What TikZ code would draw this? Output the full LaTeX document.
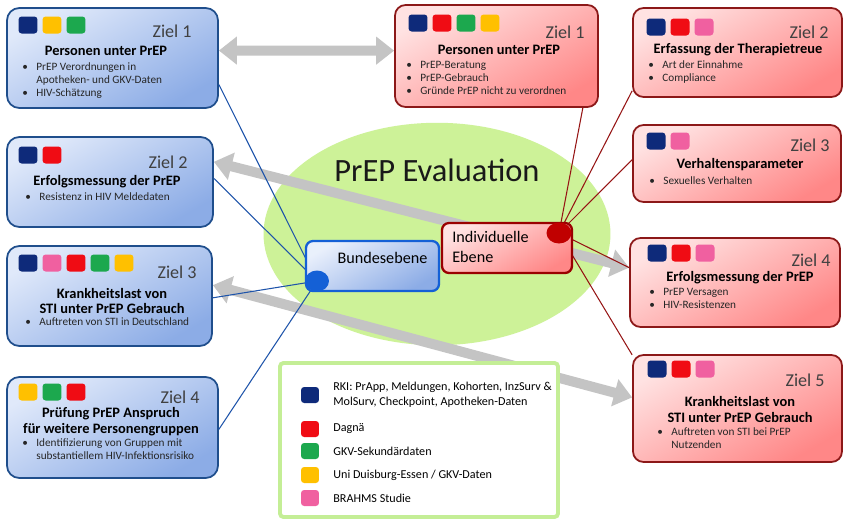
\documentclass[tikz,border=0pt]{standalone}
\usepackage{fontspec}
\setmainfont{Carlito}
\usetikzlibrary{arrows.meta,shapes.geometric}

\definecolor{rki}{RGB}{14,42,122}
\definecolor{dagnae}{RGB}{240,12,20}
\definecolor{gkv}{RGB}{28,168,78}
\definecolor{uni}{RGB}{255,192,0}
\definecolor{brahms}{RGB}{240,96,160}
\definecolor{blaurand}{RGB}{31,78,140}
\definecolor{blauhell}{RGB}{224,233,250}
\definecolor{blaudunkel}{RGB}{140,172,230}
\definecolor{rotrand}{RGB}{140,24,24}
\definecolor{rothell}{RGB}{255,226,226}
\definecolor{rotdunkel}{RGB}{255,135,135}
\definecolor{wiese}{RGB}{205,242,152}
\definecolor{legrand}{RGB}{196,238,150}
\definecolor{pfeilgrau}{RGB}{196,196,196}
\definecolor{linieblau}{RGB}{30,84,170}
\definecolor{linierot}{RGB}{150,20,20}
\definecolor{punktblau}{RGB}{20,96,214}
\definecolor{punktrot}{RGB}{192,0,0}

\tikzset{
  blaubox/.style={draw=blaurand, line width=1pt, rounded corners=7pt, top color=blauhell, bottom color=blaudunkel, shading angle=30, inner sep=0pt},
  rotbox/.style={draw=rotrand, line width=1pt, rounded corners=6pt, top color=rothell, bottom color=rotdunkel, shading angle=30, inner sep=0pt},
  bundbox/.style={draw=punktblau, line width=1.3pt, rounded corners=4pt, top color=blauhell!70!white, bottom color=blaudunkel, shading angle=30, inner sep=0pt},
  indbox/.style={draw=punktrot!80!black, line width=1.3pt, rounded corners=4pt, top color=rothell, bottom color=rotdunkel, shading angle=30, inner sep=0pt},
  legbox/.style={draw=legrand, line width=2.2pt, fill=white, rounded corners=2pt, inner sep=0pt},
  feld/.style={minimum width=0.38cm, minimum height=0.34cm, rounded corners=1.8pt, inner sep=0pt},
  punkt/.style={ellipse, minimum width=0.48cm, minimum height=0.42cm, inner sep=0pt},
  ziel/.style={anchor=east, font=\fontsize{10.3}{12}\selectfont, text=black!75, inner sep=0pt},
  titel/.style={font=\fontsize{8.2}{9}\selectfont\bfseries, align=center, inner sep=0pt},
  liste/.style={anchor=north west, font=\fontsize{6.4}{7.5}\selectfont, align=left, inner sep=0pt, text=black!85},
  mitte/.style={font=\fontsize{9.2}{11.3}\selectfont, inner sep=0pt},
  legtext/.style={anchor=west, font=\fontsize{6.9}{8.5}\selectfont, align=left, inner sep=0pt},
  grau/.style={pfeilgrau, line width=0.2cm, {Triangle[width=0.54cm,length=0.36cm]}-{Triangle[width=0.54cm,length=0.36cm]}},
  bline/.style={linieblau, line width=0.6pt},
  rline/.style={linierot, line width=0.6pt},
}
\newcommand{\kasten}[6]{\node[#1, minimum width={(#5-#3)*0.02cm}, minimum height={(#6-#4)*0.02cm}] (#2) at ({(#3+#5)/2},{(#4+#6)/2}) {};}
\newcommand{\felder}[4]{\foreach \farbe [count=\n] in {#4} {\node[feld, fill=\farbe] (#1-\n) at ({#2+(\n-1)*24},#3) {};}}
\newcommand{\bp}{\makebox[8pt][l]{\textbullet}}
\newcommand{\bw}{\hspace*{8pt}}

\begin{document}
\begin{tikzpicture}[x=0.02cm, y=-0.02cm]
\fill[white] (0,0) rectangle (850,525);
\useasboundingbox (0,0) rectangle (850,525);

% Mitte
\node[ellipse, fill=wiese, minimum width=6.94cm, minimum height=4.45cm, inner sep=0pt] (wiese) at (437,234) {};
\node[font=\fontsize{18.5}{20}\selectfont, text=black!90, inner sep=0pt] (eval) at (437,170) {PrEP Evaluation};

% Bundesebene, links
\kasten{blaubox}{L1}{7}{8}{218}{108}
\felder{L1}{28}{25}{rki,uni,gkv}
\node[ziel] (L1z) at (192,31) {Ziel 1};
\node[titel] (L1t) at (106,51) {Personen unter PrEP};
\node[liste] (L1l) at (22,62) {\bp PrEP Verordnungen in\\\bw Apotheken- und GKV-Daten\\\bp HIV-Schätzung};

\kasten{blaubox}{L2}{7}{137}{213}{227}
\felder{L2}{28}{155}{rki,dagnae}
\node[ziel] (L2z) at (188,162) {Ziel 2};
\node[titel] (L2t) at (107,182) {Erfolgsmessung der PrEP};
\node[liste] (L2l) at (25,192) {\bp Resistenz in HIV Meldedaten};

\kasten{blaubox}{L3}{7}{246}{212}{346}
\felder{L3}{28}{263}{rki,brahms,dagnae,gkv,uni}
\node[ziel] (L3z) at (197,272) {Ziel 3};
\node[titel] (L3t) at (112,301) {Krankheitslast von\\STI unter PrEP Gebrauch};
\node[liste] (L3l) at (25,317) {\bp Auftreten von STI in Deutschland};

\kasten{blaubox}{L4}{7}{377}{218}{478}
\felder{L4}{28}{392}{uni,gkv,dagnae}
\node[ziel] (L4z) at (200,397) {Ziel 4};
\node[titel] (L4t) at (111,422) {Prüfung PrEP Anspruch\\für weitere Personengruppen};
\node[liste] (L4l) at (22,438) {\bp Identifizierung von Gruppen mit\\\bw substantiellem HIV-Infektionsrisiko};

% individuelle Ebene, rechts
\kasten{rotbox}{R1}{395}{5}{598}{107}
\felder{R1}{418}{23}{rki,dagnae,gkv,uni}
\node[ziel] (R1z) at (585,32) {Ziel 1};
\node[titel] (R1t) at (499,50) {Personen unter PrEP};
\node[liste] (R1l) at (406,61) {\bp PrEP-Beratung\\\bp PrEP-Gebrauch\\\bp Gründe PrEP nicht zu verordnen};

\kasten{rotbox}{R2}{633}{8}{842}{97}
\felder{R2}{656}{27}{rki,dagnae,brahms}
\node[ziel] (R2z) at (829,32) {Ziel 2};
\node[titel] (R2t) at (738,50) {Erfassung der Therapietreue};
\node[liste] (R2l) at (648,60) {\bp Art der Einnahme\\\bp Compliance};

\kasten{rotbox}{R3}{633}{125}{841}{202}
\felder{R3}{656}{141}{rki,brahms}
\node[ziel] (R3z) at (830,145) {Ziel 3};
\node[titel] (R3t) at (740,165) {Verhaltensparameter};
\node[liste] (R3l) at (649,176) {\bp Sexuelles Verhalten};

\kasten{rotbox}{R4}{630}{238}{840}{327}
\felder{R4}{657}{253}{rki,dagnae,brahms}
\node[ziel] (R4z) at (831,260) {Ziel 4};
\node[titel] (R4t) at (740,278) {Erfolgsmessung der PrEP};
\node[liste] (R4l) at (649,288) {\bp PrEP Versagen\\\bp HIV-Resistenzen};

\kasten{rotbox}{R5}{633}{355}{842}{462}
\felder{R5}{657}{369}{rki,dagnae,brahms}
\node[ziel] (R5z) at (825,380) {Ziel 5};
\node[titel] (R5t) at (740,409.5) {Krankheitslast von\\STI unter PrEP Gebrauch};
\node[liste] (R5l) at (657,427) {\bp Auftreten von STI bei PrEP\\\bw Nutzenden};

% graue Pfeile
\draw[grau] (L1.4) -- (R1.177);
\draw[grau] (L2.11) -- (R4.172);
\draw[grau] (L3.6) -- (R5.174);

% Verbindungen
\coordinate (bmitte) at (317,281);
\coordinate (imitte) at (559,233);
\foreach \z in {L1.-14, L2.2, L3.-1, L4.-1} \draw[bline] (bmitte) -- (\z);
\foreach \z in {R1.-31, R2.200, R3.178, R4.172, R5.153} \draw[rline] (imitte) -- (\z);

\kasten{bundbox}{bund}{306}{241}{439}{291}
\node[mitte] (bundt) at (382.5,258) {Bundesebene};
\kasten{indbox}{ind}{442}{223}{572}{273}
\node[mitte, align=left, anchor=west] (indt) at (452,247) {Individuelle\\Ebene};
\node[punkt, fill=punktblau] (bpunkt) at (bmitte) {};
\node[punkt, fill=punktrot, minimum width=0.5cm] (ipunkt) at (imitte) {};

% Legende
\kasten{legbox}{leg}{280}{363}{558}{517}
\foreach \farbe/\y/\txt [count=\n] in {rki/395/{RKI: PrApp, Meldungen, Kohorten, InzSurv \&\\MolSurv, Checkpoint, Apotheken-Daten}, dagnae/429/{Dagnä}, gkv/451/{GKV-Sekundärdaten}, uni/475/{Uni Duisburg-Essen / GKV-Daten}, brahms/498/{BRAHMS Studie}} {
  \node[feld, fill=\farbe, minimum width=0.36cm, minimum height=0.32cm] (lq\n) at (310,\y) {};
  \node[legtext] (lt\n) at (333,\y) {\txt};
}
\end{tikzpicture}
\end{document}
